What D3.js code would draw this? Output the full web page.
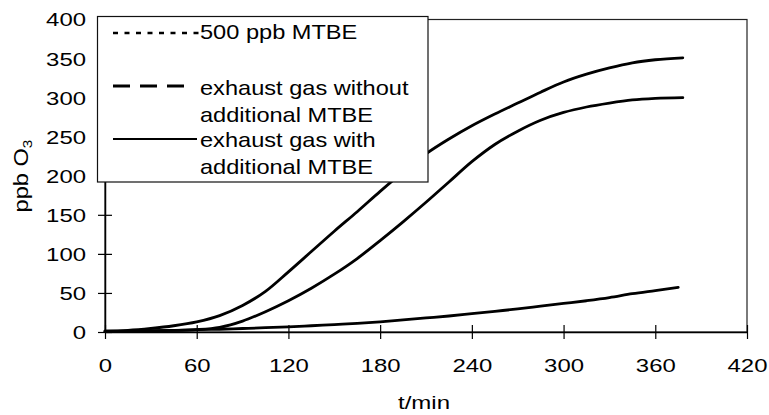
<!DOCTYPE html>
<html>
<head>
<meta charset="utf-8">
<script src="https://cdn.jsdelivr.net/npm/d3@7"></script>
<style>
  html, body { margin: 0; padding: 0; background: #fff; }
  svg { display: block; font-family: Arial, "Liberation Sans", sans-serif; }
</style>
</head>
<body>
<svg id="chart" width="769" height="415"></svg>
<script>
// Ozone formation over time (ppb O3) for the three smog-chamber runs
const times = [0, 15, 30, 45, 60, 75, 90, 105, 120, 135, 150, 165, 180, 195, 210, 225, 240, 255, 270, 285, 300, 315, 330, 345, 360, 378];
const timesMTBE = [0, 15, 30, 45, 60, 75, 90, 105, 120, 135, 150, 165, 180, 195, 210, 225, 240, 255, 270, 285, 300, 315, 330, 345, 360, 375];
const exhaustWithMTBE = [1, 2, 4.5, 8, 13, 21, 34, 52, 77, 103, 129, 154, 180, 205, 228, 247, 264, 279, 293, 307, 320, 330, 338, 344.5, 348.5, 351];
const exhaustWithoutMTBE = [1, 1, 1.5, 2, 3, 6, 14, 26, 40, 56, 74, 94, 117, 141, 166, 192, 218, 240, 257, 271, 281, 288, 293, 297, 299, 300];
const mtbe500 = [0.5, 1, 1.5, 2, 3, 3.5, 4.5, 5.5, 6.5, 8, 9.5, 11, 13, 15.5, 18, 20.5, 23.5, 26.5, 29.5, 33, 36.5, 40, 44, 49, 53, 57];

const xTicks = [0, 60, 120, 180, 240, 300, 360, 420];
const yTicks = [0, 50, 100, 150, 200, 250, 300, 350, 400];

const legendEntries = [
  { lines: ["500 ppb MTBE"], dash: "5,6.5", width: 2.5 },
  { lines: ["exhaust gas without", "additional MTBE"], dash: "17,10", width: 3 },
  { lines: ["exhaust gas with", "additional MTBE"], dash: null, width: 2 }
];

const series = [
  { t: timesMTBE, v: mtbe500 },
  { t: times, v: exhaustWithoutMTBE },
  { t: times, v: exhaustWithMTBE }
];

const svg = d3.select("#chart");
const plotLeft = 105, plotRight = 747, plotTop = 19.5, plotBottom = 332;

const x = d3.scaleLinear().domain([0, 420]).range([plotLeft, plotRight]);
const y = d3.scaleLinear().domain([0, 400]).range([plotBottom, plotTop]);

// plot frame (top and right edges)
svg.append("rect")
  .attr("x", plotLeft).attr("y", plotTop)
  .attr("width", plotRight - plotLeft).attr("height", plotBottom - plotTop)
  .attr("fill", "none").attr("stroke", "#222").attr("stroke-width", 1.2);

// data lines
const line = d3.line().curve(d3.curveMonotoneX);
series.forEach(s => {
  svg.append("path")
    .attr("d", line(s.t.map((t, i) => [x(t), y(s.v[i])])))
    .attr("fill", "none")
    .attr("stroke", "#000")
    .attr("stroke-width", 2.8)
    .attr("stroke-linejoin", "round")
    .attr("stroke-linecap", "round");
});

// x axis
const gx = svg.append("g")
  .attr("transform", `translate(0,${plotBottom})`)
  .call(d3.axisBottom(x).tickValues(xTicks).tickSizeOuter(0).tickSizeInner(7));
gx.select(".domain").attr("stroke", "#000").attr("stroke-width", 1.5);
gx.selectAll(".tick line").attr("y1", -7).attr("y2", 7).attr("stroke", "#000").attr("stroke-width", 1.2);
gx.selectAll(".tick text")
  .attr("font-size", 18).attr("fill", "#000")
  .attr("font-family", "Arial, 'Liberation Sans', sans-serif")
  .attr("y", 0).attr("dy", 0)
  .attr("transform", "translate(0,40) scale(1.33,1)");

// y axis
const gy = svg.append("g")
  .attr("transform", `translate(${plotLeft},0)`)
  .call(d3.axisLeft(y).tickValues(yTicks).tickSizeOuter(0).tickSizeInner(7));
gy.select(".domain").attr("stroke", "#000").attr("stroke-width", 1.5);
gy.selectAll(".tick line").attr("x1", -7).attr("x2", 7).attr("stroke", "#000").attr("stroke-width", 1.2);
gy.selectAll(".tick text")
  .attr("font-size", 18).attr("fill", "#000")
  .attr("font-family", "Arial, 'Liberation Sans', sans-serif")
  .attr("x", 0).attr("dy", "0.36em")
  .attr("transform", "translate(-19,0) scale(1.33,1)");

// axis titles
svg.append("text")
  .attr("text-anchor", "middle")
  .attr("font-size", 18.5)
  .attr("transform", "translate(424,409) scale(1.3,1)")
  .text("t/min");

const yTitle = svg.append("text")
  .attr("text-anchor", "middle")
  .attr("font-size", 20)
  .attr("transform", "translate(28,176) rotate(-90) scale(1.18,1)");
yTitle.append("tspan").text("ppb O");
yTitle.append("tspan").attr("font-size", 13).attr("dy", 4).text("3");

// legend
const lg = svg.append("g");
lg.append("rect")
  .attr("x", 97.5).attr("y", 16.5)
  .attr("width", 330.5).attr("height", 165.5)
  .attr("fill", "#fff").attr("stroke", "#111").attr("stroke-width", 1.2);

const sampleY = [33, 86, 139];
const baseY = [39, 95, 147];
const sampleEnd = [199, 190, 197];
legendEntries.forEach((e, i) => {
  lg.append("line")
    .attr("x1", 113).attr("x2", sampleEnd[i])
    .attr("y1", sampleY[i]).attr("y2", sampleY[i])
    .attr("stroke", "#000").attr("stroke-width", e.width)
    .attr("stroke-dasharray", e.dash);
  e.lines.forEach((txt, j) => {
    lg.append("text")
      .attr("font-size", 20)
      .attr("transform", `translate(200,${baseY[i] + j * 26.5}) scale(1.18,1)`)
      .text(txt);
  });
});
</script>
</body>
</html>
